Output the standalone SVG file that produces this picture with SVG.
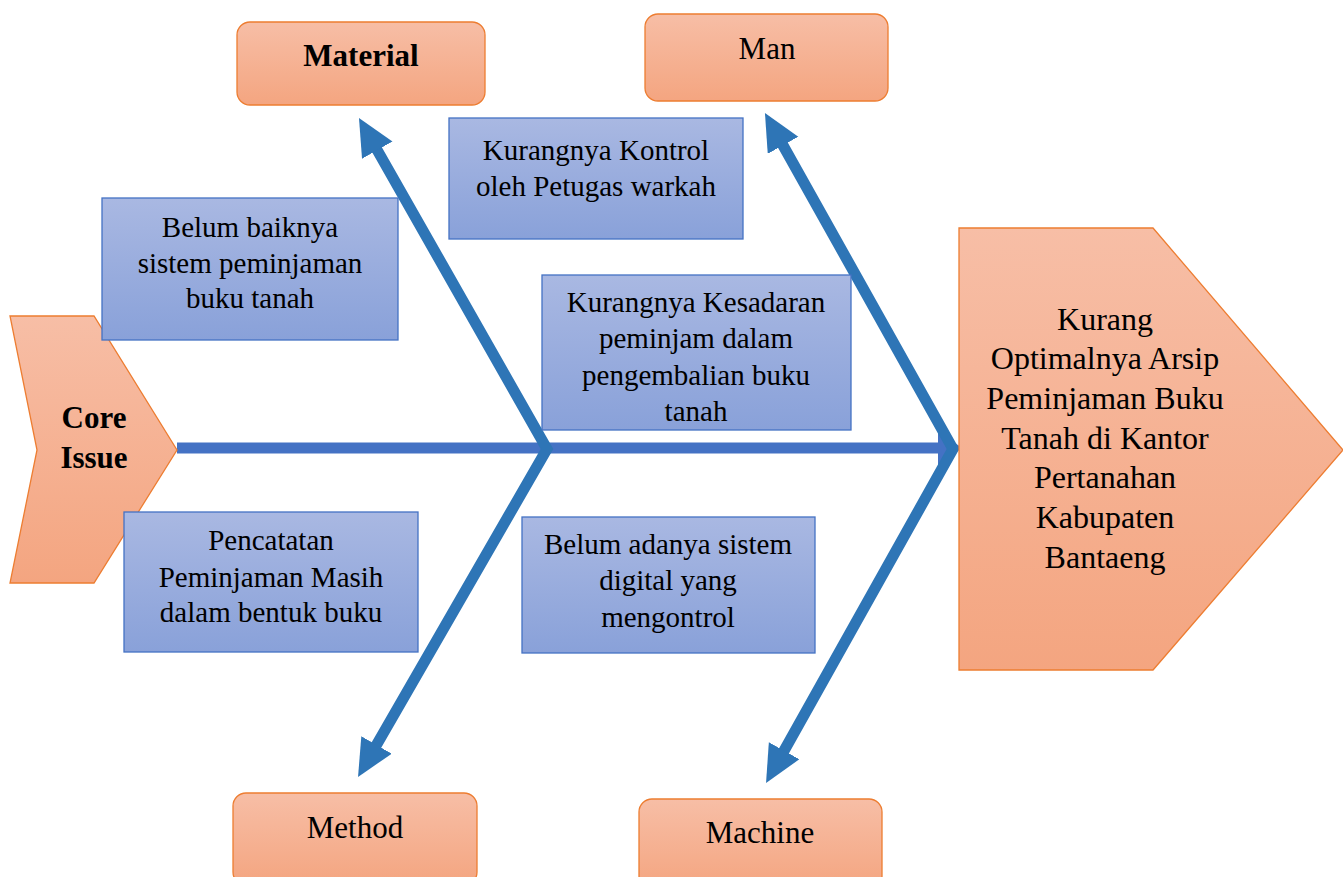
<svg xmlns="http://www.w3.org/2000/svg" width="1343" height="877" viewBox="0 0 1343 877">
<style>
.or{stroke:#ED7D31;stroke-width:1.3;fill:url(#gOr)}
.bl{stroke:#4472C4;stroke-width:1.3;fill:url(#gBl)}
.t{font-family:'Liberation Serif','Times New Roman',serif;fill:#000;text-anchor:middle}
.tb{font-size:29px}
.to{font-size:31px}
.te{font-size:32px}
.b{font-weight:bold}
.rib{fill:none;stroke:#2E75B6;stroke-width:11;stroke-linejoin:miter;stroke-miterlimit:10}
</style>
<defs>
<linearGradient id="gOr" x1="0" y1="0" x2="0" y2="1">
<stop offset="0" stop-color="#F7BEA6"/><stop offset="1" stop-color="#F4A580"/>
</linearGradient>
<linearGradient id="gBl" x1="0" y1="0" x2="0" y2="1">
<stop offset="0" stop-color="#A9B8E2"/><stop offset="1" stop-color="#89A1D9"/>
</linearGradient>
<marker id="ah" markerUnits="userSpaceOnUse" markerWidth="40" markerHeight="36" refX="7" refY="17.5" orient="auto-start-reverse" viewBox="0 0 40 36">
<path d="M0,0 L37,17.5 L0,35 z" fill="#2E75B6"/>
</marker>
<marker id="ahs" markerUnits="userSpaceOnUse" markerWidth="30" markerHeight="36" refX="4" refY="17.5" orient="auto" viewBox="0 0 30 36">
<path d="M0,0 L24,17.5 L0,35 z" fill="#4472C4"/>
</marker>
</defs>

<g id="connectors">
<line x1="177" y1="448" x2="942" y2="448" stroke="#4472C4" stroke-width="11" marker-end="url(#ahs)"/>
<path class="rib" d="M373.8,144.1 L547,449 L373,751" marker-start="url(#ah)" marker-end="url(#ah)"/>
<path class="rib" d="M779.6,139.2 L953,449 L780.7,756.8" marker-start="url(#ah)" marker-end="url(#ah)"/>
</g>

<g id="core">
<polygon class="or" points="10,316 94,316 177,450 94,583 10,583 37,450"/>
<text class="t to b" x="94" y="428">Core</text>
<text class="t to b" x="94" y="468">Issue</text>
</g>

<g id="effect">
<polygon class="or" points="959,228 1153,228 1343,450 1153,670 959,670"/>
<text class="t te" x="1105" y="330">Kurang</text>
<text class="t te" x="1105" y="369">Optimalnya Arsip</text>
<text class="t te" x="1105" y="409">Peminjaman Buku</text>
<text class="t te" x="1105" y="449">Tanah di Kantor</text>
<text class="t te" x="1105" y="488">Pertanahan</text>
<text class="t te" x="1105" y="528">Kabupaten</text>
<text class="t te" x="1105" y="568">Bantaeng</text>
</g>

<g id="material">
<rect class="or" x="237" y="22" width="248" height="83" rx="13"/>
<text class="t to b" x="361" y="66">Material</text>
</g>
<g id="man">
<rect class="or" x="645" y="14" width="243" height="87" rx="13"/>
<text class="t to" x="767" y="59">Man</text>
</g>
<g id="method">
<rect class="or" x="233" y="793" width="244" height="92" rx="13"/>
<text class="t to" x="355" y="838">Method</text>
</g>
<g id="machine">
<rect class="or" x="639" y="799" width="243" height="90" rx="13"/>
<text class="t to" x="760" y="843">Machine</text>
</g>

<g id="c1">
<rect class="bl" x="102" y="198" width="296" height="142"/>
<text class="t tb" x="250" y="237">Belum baiknya</text>
<text class="t tb" x="250" y="273">sistem peminjaman</text>
<text class="t tb" x="250" y="308">buku tanah</text>
</g>
<g id="c2">
<rect class="bl" x="449" y="118" width="294" height="121"/>
<text class="t tb" x="596" y="160">Kurangnya Kontrol</text>
<text class="t tb" x="596" y="196">oleh Petugas warkah</text>
</g>
<g id="c3">
<rect class="bl" x="542" y="275" width="309" height="155"/>
<text class="t tb" x="696" y="312">Kurangnya Kesadaran</text>
<text class="t tb" x="696" y="348">peminjam dalam</text>
<text class="t tb" x="696" y="385">pengembalian buku</text>
<text class="t tb" x="696" y="421">tanah</text>
</g>
<g id="c4">
<rect class="bl" x="124" y="512" width="294" height="140"/>
<text class="t tb" x="271" y="550">Pencatatan</text>
<text class="t tb" x="271" y="587">Peminjaman Masih</text>
<text class="t tb" x="271" y="622">dalam bentuk buku</text>
</g>
<g id="c5">
<rect class="bl" x="522" y="517" width="293" height="136"/>
<text class="t tb" x="668" y="554">Belum adanya sistem</text>
<text class="t tb" x="668" y="590">digital yang</text>
<text class="t tb" x="668" y="627">mengontrol</text>
</g>
</svg>
